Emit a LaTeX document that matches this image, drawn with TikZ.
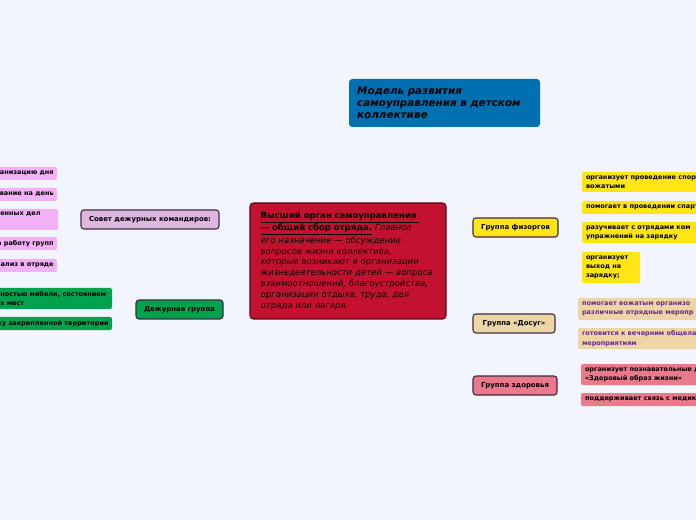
\documentclass[tikz,border=0pt]{standalone}
\usepackage{fontspec}
\setmainfont{DejaVu Sans}
\definecolor{bgc}{HTML}{F3F5FE}
\definecolor{linec}{HTML}{C9CCD2}
\definecolor{centralc}{HTML}{C3122F}
\definecolor{centralb}{HTML}{520A16}
\definecolor{titlec}{HTML}{0070B2}
\definecolor{grpb}{HTML}{3E2A46}
\definecolor{sovetc}{HTML}{DDB7E0}
\definecolor{pinkc}{HTML}{F2B0F6}
\definecolor{greenc}{HTML}{00A24E}
\definecolor{yellowc}{HTML}{FFE514}
\definecolor{wheatc}{HTML}{EDD5A6}
\definecolor{purpt}{HTML}{6B2A8C}
\definecolor{zdorc}{HTML}{E97A8B}
\pgfdeclarelayer{back}
\pgfsetlayers{back,main}
\begin{document}
\begin{tikzpicture}[x=0.75pt,y=-0.75pt,
  conn/.style={draw=linec, line width=0.8pt},
  grp/.style={draw=grpb, line width=0.8pt, rounded corners=2.2pt, font=\bfseries\fontsize{5.2}{6.2}\selectfont, text=black, inner sep=0pt, align=center, minimum height=14.25pt},
  leafbox/.style={rounded corners=1.5pt, inner sep=0pt},
  ltxt/.style={font=\bfseries\fontsize{4.9}{6.9}\selectfont, inner sep=0pt, align=left},
]
\fill[bgc] (0,0) rectangle (696,520);
\clip (0,0) rectangle (696,520);

% central
\node[draw=centralb, line width=0.8pt, fill=centralc, rounded corners=2.5pt, minimum width=147pt, minimum height=87pt, text width=131pt, align=left, inner sep=0pt, font=\itshape\fontsize{6.4}{8.2}\selectfont] (central) at (348,261) {%
\mbox{\upshape\bfseries\underline{Высший орган самоуправления }}\\
\mbox{{\upshape\bfseries\underline{— общий сбор отряда.}} Главное}\\
\mbox{его назначение — обсуждение}\\
\mbox{вопросов жизни коллектива,}\\
\mbox{которые возникают в организации}\\
\mbox{жизнедеятельности детей — вопроса}\\
\mbox{взаимоотношений, благоустройства,}\\
\mbox{организации отдыха, труда, дел}\\
\mbox{отряда или лагеря.}};

% title
\node[fill=titlec, rounded corners=2.5pt, minimum width=143.25pt, minimum height=36pt, text width=131pt, align=left, inner sep=0pt, font=\bfseries\itshape\fontsize{7.8}{9.1}\selectfont] (title) at (444.5,103) {Модель развития\\\mbox{самоуправления в детском}\\коллективе};

% groups
\node[grp, fill=sovetc, minimum width=103.5pt] (sovet) at (150,219.5) {Совет дежурных командиров:};
\node[grp, fill=greenc, minimum width=65.25pt] (dezh) at (179.5,309.5) {Дежурная группа};
\node[grp, fill=yellowc, minimum width=63.75pt] (fiz) at (515.5,227.5) {Группа физоргов};
\node[grp, fill=wheatc, minimum width=61.5pt] (dosug) at (514,323.5) {Группа «Досуг»};
\node[grp, fill=zdorc, minimum width=63pt] (zdor) at (515,385.5) {Группа здоровья};

% left pink leaves
\node[leafbox, fill=pinkc, minimum width=72.75pt, minimum height=9.75pt] (pA) at (8.5,173.5) {};
\node[leafbox, fill=pinkc, minimum width=72.75pt, minimum height=9.75pt] (pB) at (8.5,194.5) {};
\node[leafbox, fill=pinkc, minimum width=73.5pt, minimum height=15.75pt] (pC) at (9,219.5) {};
\node[leafbox, fill=pinkc, minimum width=72.75pt, minimum height=9.75pt] (pD) at (8.5,243.5) {};
\node[leafbox, fill=pinkc, minimum width=72.75pt, minimum height=9.75pt] (pE) at (8.5,265.5) {};
\node[ltxt, anchor=east] (tpA) at ([xshift=-2.5pt]pA.east) {ганизацию дня};
\node[ltxt, anchor=east] (tpB) at ([xshift=-2.5pt]pB.east) {вание на день};
\node[ltxt, anchor=west] (tpC) at (0,214.5) {енных дел};
\node[ltxt, anchor=east] (tpD) at ([xshift=-2.5pt]pD.east) {а работу групп};
\node[ltxt, anchor=east] (tpE) at ([xshift=-2.5pt]pE.east) {нализ в отряде};

% green leaves
\node[leafbox, fill=greenc, minimum width=114pt, minimum height=15.75pt] (gA) at (36,298.5) {};
\node[leafbox, fill=greenc, minimum width=114pt, minimum height=9.75pt] (gB) at (36,323.5) {};
\node[ltxt, anchor=west] (tgA) at (0,298.8) {ностью мебели, состоянием\\х мест};
\node[ltxt, anchor=east] (tgB) at ([xshift=-2.5pt]gB.east) {ку закрепленной территории};

% yellow leaves
\node[leafbox, fill=yellowc, minimum width=118.5pt, minimum height=15pt] (yA) at (661,182) {};
\node[leafbox, fill=yellowc, minimum width=118.5pt, minimum height=9.75pt] (yB) at (661,207.5) {};
\node[leafbox, fill=yellowc, minimum width=118.5pt, minimum height=15.75pt] (yC) at (661,232.5) {};
\node[leafbox, fill=yellowc, minimum width=43.5pt, minimum height=23.25pt] (yD) at (611,267.5) {};
\node[ltxt, anchor=west] (tyA) at ([xshift=3pt]yA.west) {организует проведение спорт\\вожатыми};
\node[ltxt, anchor=west] (tyB) at ([xshift=3pt]yB.west) {помогает в проведении спартак};
\node[ltxt, anchor=west] (tyC) at ([xshift=3pt]yC.west) {разучивает с отрядами ком\\упражнений на зарядку};
\node[ltxt, anchor=west] (tyD) at ([xshift=3pt]yD.west) {организует\\выход на\\зарядку;};

% wheat leaves
\node[leafbox, fill=wheatc, minimum width=121.5pt, minimum height=16.5pt] (dA) at (659,309) {};
\node[leafbox, fill=wheatc, minimum width=121.5pt, minimum height=15.75pt] (dB) at (659,338.5) {};
\node[ltxt, text=purpt, anchor=west] (tdA) at ([xshift=3pt]dA.west) {помогает вожатым организо\\различные отрядные меропр};
\node[ltxt, text=purpt, anchor=west] (tdB) at ([xshift=3pt]dB.west) {готовится к вечерним общела\\мероприятиям};

% health leaves
\node[leafbox, fill=zdorc, minimum width=119.25pt, minimum height=15.75pt] (zA) at (660.5,374.5) {};
\node[leafbox, fill=zdorc, minimum width=119.25pt, minimum height=9.75pt] (zB) at (660.5,399.5) {};
\node[ltxt, anchor=west] (tzA) at ([xshift=3pt]zA.west) {организует познавательные д\\«Здоровый образ жизни»};
\node[ltxt, anchor=west] (tzB) at ([xshift=3pt]zB.west) {поддерживает связь с медика};

\begin{pgfonlayer}{back}
\draw[conn] (title.south west) -- (title.south west |- central.north);
\draw[conn] (central.center) .. controls +(-60,0) and +(30,0) .. (sovet.east);
\draw[conn] (central.center) .. controls +(-60,0) and +(30,0) .. (dezh.east);
\draw[conn] (central.center) .. controls +(60,0) and +(-30,0) .. (fiz.west);
\draw[conn] (central.center) .. controls +(60,0) and +(-30,0) .. (dosug.west);
\draw[conn] (central.center) .. controls +(45,85) and +(-60,0) .. (zdor.west);
\foreach \l in {pA,pB,pC,pD,pE}
  \draw[conn] (sovet.west) .. controls +(-14,0) and +(14,0) .. (\l.south east);
\foreach \l in {gA,gB}
  \draw[conn] (dezh.west) .. controls +(-14,0) and +(14,0) .. (\l.south east);
\foreach \l in {yA,yB,yC,yD}
  \draw[conn] (fiz.east) .. controls +(14,0) and +(-14,0) .. (\l.south west);
\foreach \l in {dA,dB}
  \draw[conn] (dosug.east) .. controls +(14,0) and +(-14,0) .. (\l.south west);
\foreach \l in {zA,zB}
  \draw[conn] (zdor.east) .. controls +(14,0) and +(-14,0) .. (\l.south west);
\end{pgfonlayer}
\end{tikzpicture}
\end{document}
